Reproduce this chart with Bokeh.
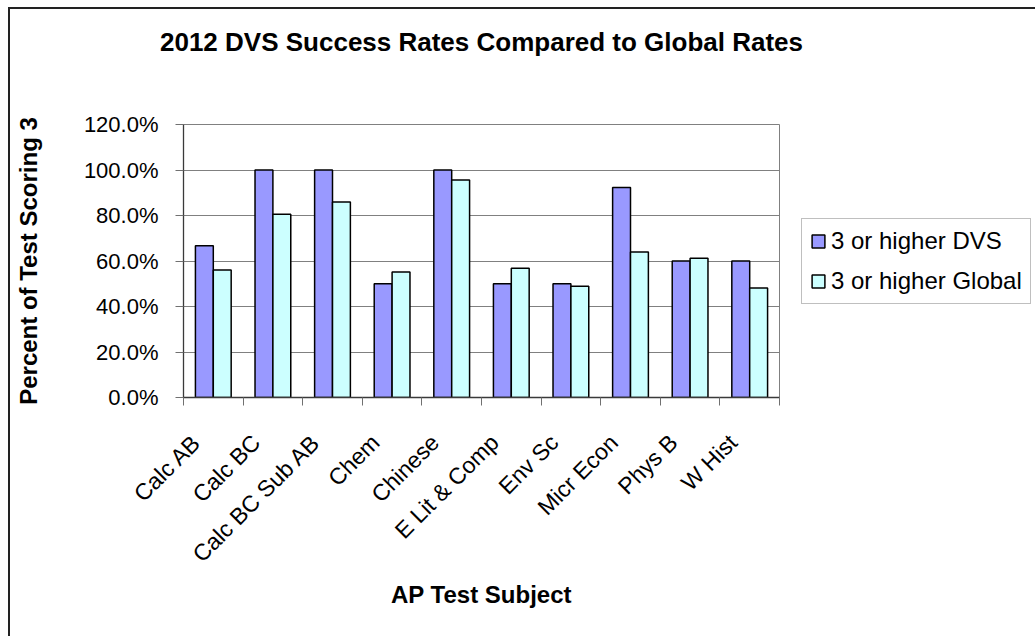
from bokeh.plotting import figure
from bokeh.models import (Range1d, FixedTicker, PrintfTickFormatter, Legend, LegendItem,
                          ColumnDataSource, LinearAxis)
from bokeh.transform import dodge
from bokeh.embed import file_html
from bokeh.resources import INLINE
import math

# AP subjects and pass rates (percent scoring 3 or higher)
subjects = ["Calc AB", "Calc BC", "Calc BC Sub AB", "Chem", "Chinese",
            "E Lit & Comp", "Env Sc", "Micr Econ", "Phys B", "W Hist"]
dvs_rate = [66.7, 100.0, 100.0, 50.0, 100.0, 50.0, 50.0, 92.3, 60.0, 60.0]
global_rate = [56.0, 80.6, 85.9, 55.2, 95.6, 56.8, 48.9, 64.0, 61.2, 48.1]
y_ticks = [0, 20, 40, 60, 80, 100, 120]
chart_title = "2012 DVS Success Rates Compared to Global Rates"

FONT = "Liberation Sans"

centers = [i + 0.5 for i in range(len(subjects))]
# rotated category labels hang a little left of each group's centre
label_pos = [c - 0.28 for c in centers]
src = ColumnDataSource(dict(x=centers, dvs=dvs_rate, glob=global_rate))

p = figure(frame_width=596, frame_height=273, output_backend="svg", toolbar_location=None,
           x_range=Range1d(0, len(subjects)), y_range=Range1d(0, 120),
           min_border_left=173, min_border_right=0, min_border_top=115,
           min_border_bottom=239)
p.width = None
p.height = None
p.margin = (7, 0, 0, 8)
p.styles = {"border-top": "2px solid #222222", "border-left": "2px solid #222222"}

p.background_fill_color = "white"
p.border_fill_color = "white"
p.outline_line_color = "#808080"
p.outline_line_width = 1

xax = p.below[0]
yax = p.left[0]

# chart heading, carried by a bare axis above the plot area
head = LinearAxis(ticker=FixedTicker(ticks=[]), axis_line_color=None,
                  major_tick_line_color=None, minor_tick_line_color=None,
                  major_label_text_font_size="0px", major_tick_out=0, major_tick_in=0,
                  major_label_standoff=0)
head.axis_label = chart_title
head.axis_label_text_font = FONT
head.axis_label_text_font_style = "bold"
head.axis_label_text_font_size = "26px"
head.axis_label_text_color = "black"
head.axis_label_standoff = 68
p.add_layout(head, "above")

r1 = p.vbar(x=dodge("x", -0.15, range=p.x_range), top="dvs", width=0.3, source=src,
            fill_color="#9999FF", line_color="black", line_width=1.5)
r2 = p.vbar(x=dodge("x", 0.15, range=p.x_range), top="glob", width=0.3, source=src,
            fill_color="#CCFFFF", line_color="black", line_width=1.5)

# y axis
yax.ticker = FixedTicker(ticks=y_ticks)
yax.formatter = PrintfTickFormatter(format="%.1f%%")
yax.major_tick_in = 0
yax.major_tick_out = 8
yax.minor_tick_line_color = None
yax.major_tick_line_color = "#707070"
yax.axis_line_color = "#3a3a3a"
yax.axis_line_width = 1.3
yax.major_label_text_font = FONT
yax.major_label_text_font_size = "22px"
yax.major_label_text_color = "black"
yax.major_label_standoff = 17
yax.axis_label = "Percent of Test Scoring 3"
yax.axis_label_text_font = FONT
yax.axis_label_text_font_style = "bold"
yax.axis_label_text_font_size = "24px"
yax.axis_label_text_color = "black"
yax.axis_label_standoff = 39

# x axis: tick marks at category boundaries, labels under each group
xax.ticker = FixedTicker(ticks=label_pos, minor_ticks=list(range(len(subjects) + 1)))
xax.major_label_overrides = {c: s for c, s in zip(label_pos, subjects)}
xax.major_tick_in = 0
xax.major_tick_out = 0
xax.minor_tick_in = 0
xax.minor_tick_out = 8
xax.minor_tick_line_color = "#707070"
xax.axis_line_color = "#3a3a3a"
xax.axis_line_width = 1.3
xax.major_label_orientation = math.pi / 4
xax.major_label_text_font = FONT
xax.major_label_text_font_size = "23px"
xax.major_label_text_color = "black"
xax.major_label_standoff = 33
xax.axis_label = "AP Test Subject"
xax.axis_label_text_font = FONT
xax.axis_label_text_font_style = "bold"
xax.axis_label_text_font_size = "24px"
xax.axis_label_text_color = "black"
xax.axis_label_standoff = 2

p.xgrid.visible = False
p.ygrid.grid_line_color = "#808080"
p.ygrid.grid_line_width = 1

legend = Legend(items=[LegendItem(label="3 or higher DVS", renderers=[r1]),
                       LegendItem(label="3 or higher Global", renderers=[r2])],
                location=(22, 93))
legend.label_text_font = FONT
legend.label_text_font_size = "24px"
legend.label_text_color = "black"
legend.glyph_width = 16
legend.glyph_height = 16
legend.label_standoff = 5
legend.spacing = 12
legend.padding = 8
legend.margin = 0
legend.border_line_color = "#808080"
legend.border_line_width = 1
p.add_layout(legend, "right")

open("out.html", "w").write(file_html(p, INLINE))
